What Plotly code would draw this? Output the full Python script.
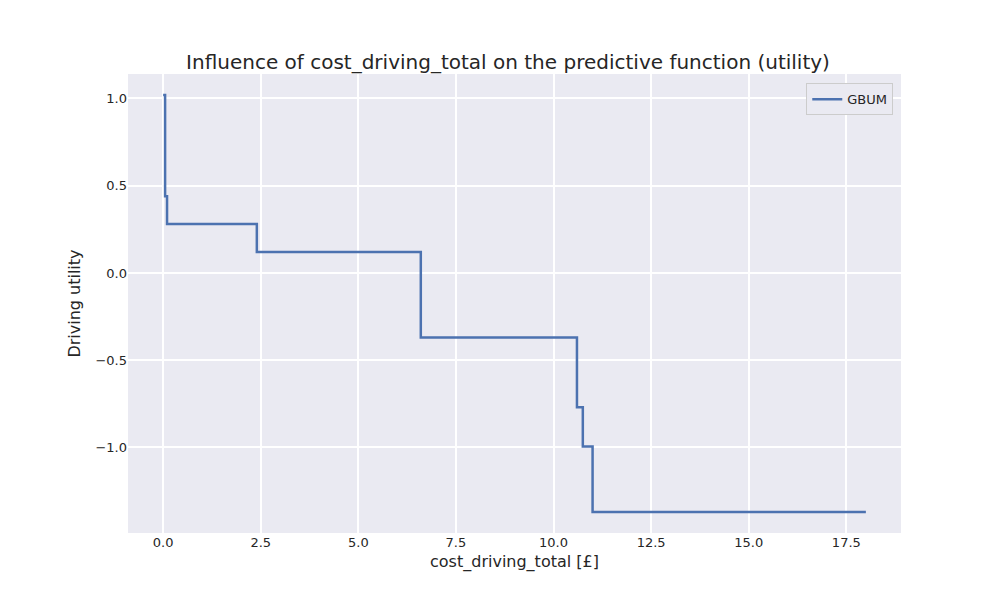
import plotly.graph_objects as go

# Step function breakpoints (cost in £) and utility values
cost = [0.0, 0.05, 0.05, 0.1, 0.1, 2.4, 2.4, 6.6, 6.6, 10.6, 10.6, 10.75, 10.75, 11.0, 11.0, 18.0]
utility = [1.02, 1.02, 0.44, 0.44, 0.28, 0.28, 0.12, 0.12, -0.37, -0.37, -0.77, -0.77, -0.995, -0.995, -1.37, -1.37]

x_ticks = [0.0, 2.5, 5.0, 7.5, 10.0, 12.5, 15.0, 17.5]
y_ticks = [1.0, 0.5, 0.0, -0.5, -1.0]

fig = go.Figure()
fig.add_trace(go.Scatter(
    x=cost, y=utility, mode='lines', name='GBUM',
    line=dict(color='#4C72B0', width=2.5)
))

fig.update_layout(
    width=1000, height=600,
    margin=dict(l=120, r=107, t=66, b=75),
    paper_bgcolor='white', plot_bgcolor='#EAEAF2',
    font=dict(family='DejaVu Sans', size=13, color='#262626'),
    title=dict(text='Influence of cost_driving_total on the predictive function (utility)',
               x=0.5, xanchor='center', y=0.91, yanchor='middle', font=dict(size=20)),
    xaxis=dict(title=dict(text='cost_driving_total [£]', standoff=6), range=[-0.9, 18.9],
               tickvals=x_ticks, ticktext=[f'{v:.1f}' for v in x_ticks],
               gridcolor='white', gridwidth=1.5, zeroline=False, ticks=''),
    yaxis=dict(title=dict(text='Driving utility', standoff=10), range=[-1.49, 1.14],
               tickvals=y_ticks, ticktext=[f'{v:.1f}'.replace('-', '−') for v in y_ticks],
               gridcolor='white', gridwidth=1.5, zeroline=False, ticks=''),
    showlegend=True,
    legend=dict(x=0.99, y=0.98, xanchor='right', yanchor='top', bgcolor='#EAEAF2',
                bordercolor='#CCCCCC', borderwidth=1, font=dict(size=13))
)

fig.write_html("out.html")
